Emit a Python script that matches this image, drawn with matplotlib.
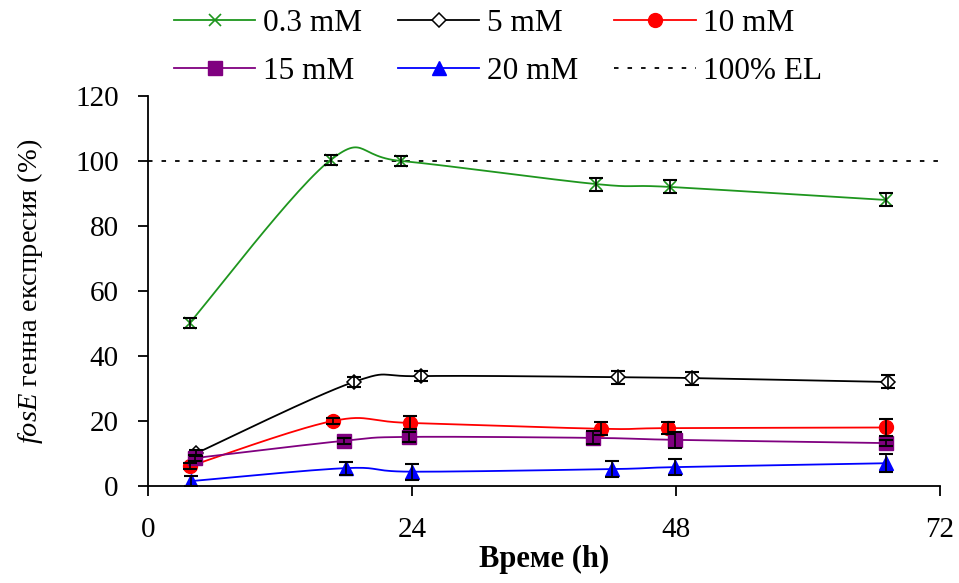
""" fosE генна експресия vs време (различни концентрации)

"""
import numpy as np
import matplotlib
matplotlib.use('Agg')
import matplotlib.pyplot as plt
from matplotlib.lines import Line2D

plt.rcParams['font.family'] = ['Liberation Serif', 'DejaVu Serif']
plt.rcParams['mathtext.fontset'] = 'custom'
plt.rcParams['mathtext.rm'] = 'Liberation Serif'
plt.rcParams['mathtext.it'] = 'Liberation Serif:italic'

# данни (отчетени от графиката)
labels = ['0.3 mM', '5 mM', '10 mM', '15 mM', '20 mM']
x_03 = [3.8, 16.6, 23.0, 40.7, 47.5, 67.1]
y_03 = [50.2, 100.3, 100.0, 92.9, 92.0, 88.0]
e_03 = [1.5, 1.5, 1.5, 2.0, 2.0, 2.0]
x_5 = [4.4, 18.7, 24.8, 42.7, 49.5, 67.3]
y_5 = [10.1, 32.0, 33.8, 33.5, 33.2, 32.0]
e_5 = [1.0, 1.5, 1.5, 2.0, 2.0, 2.0]
x_10 = [3.8, 16.8, 23.8, 41.2, 47.3, 67.1]
y_10 = [6.1, 20.0, 19.4, 17.6, 17.8, 18.0]
e_10 = [1.0, 1.0, 2.0, 2.0, 1.8, 2.5]
x_15 = [4.3, 17.8, 23.7, 40.5, 47.9, 67.1]
y_15 = [8.6, 13.9, 15.1, 14.8, 14.2, 13.2]
e_15 = [1.0, 1.0, 1.5, 2.0, 2.4, 1.0]
x_20 = [3.9, 18.0, 24.0, 42.2, 47.9, 67.1]
y_20 = [1.5, 5.5, 4.4, 5.2, 5.8, 7.0]
e_20 = [1.5, 2.0, 2.5, 2.5, 2.5, 2.8]
el_level = 100


def smooth(x, y, n=30):
    """ Excel-подобна гладка линия (Безие с тангенти 1/6) """
    x = np.asarray(x, float)
    y = np.asarray(y, float)
    px = np.concatenate([[x[0]], x, [x[-1]]])
    py = np.concatenate([[y[0]], y, [y[-1]]])
    xs, ys = [], []
    t = np.linspace(0, 1, n)
    for i in range(1, len(px) - 2):
        p0 = np.array([px[i], py[i]])
        p3 = np.array([px[i + 1], py[i + 1]])
        p1 = p0 + (np.array([px[i + 1], py[i + 1]]) - np.array([px[i - 1], py[i - 1]])) / 6
        p2 = p3 - (np.array([px[i + 2], py[i + 2]]) - np.array([px[i], py[i]])) / 6
        b = ((1 - t) ** 3)[:, None] * p0 + (3 * (1 - t) ** 2 * t)[:, None] * p1 \
            + (3 * (1 - t) * t ** 2)[:, None] * p2 + (t ** 3)[:, None] * p3
        xs.extend(b[:, 0])
        ys.extend(b[:, 1])
    return xs, ys


fig = plt.figure(figsize=(9.59, 5.83), dpi=100)
ax = fig.add_axes([0.1543, 0.1664, 0.8259, 0.6690])

series = [
    (x_03, y_03, e_03, '#1e961e', dict(marker='x', ms=9, mew=1.2, mfc='none')),
    (x_5, y_5, e_5, 'black', dict(marker='D', ms=7, mew=1.1, mfc='white')),
    (x_10, y_10, e_10, '#ff0000', dict(marker='o', ms=10, mfc='#ff0000')),
    (x_15, y_15, e_15, '#800080', dict(marker='s', ms=10, mfc='#800080')),
    (x_20, y_20, e_20, '#0000ff', dict(marker='^', ms=10, mfc='#0000ff')),
]

handles = []
for (xx, yy, ee, col, mk), lab in zip(series, labels):
    sx, sy = smooth(xx, yy)
    ax.plot(sx, sy, '-', lw=1.3, color=col, zorder=2)
    ax.plot(xx, yy, ls='none', color=col, mec=col, zorder=3, **mk)
    ax.errorbar(xx, yy, yerr=ee, fmt='none', ecolor='black', elinewidth=1.2,
                capsize=5, capthick=1.5, zorder=4)
    handles.append(Line2D([], [], color=col, lw=1.3, mec=col, **mk))

ax.plot([0, 72], [el_level, el_level], color='black', lw=1.3, ls=(0, (2.5, 5)), zorder=1)
h_el = Line2D([], [], color='black', lw=1.3, ls=(0, (2.5, 5)))

ax.set_xlim(0, 72)
ax.set_ylim(0, 120)
ax.set_xticks([0, 24, 48, 72])
ax.set_yticks(range(0, 121, 20))
for s in ['top', 'right']:
    ax.spines[s].set_visible(False)
for s in ['left', 'bottom']:
    ax.spines[s].set_linewidth(1.3)
ax.tick_params(direction='out', length=7, width=1.3, labelsize=21)
ax.tick_params(axis='x', pad=15)
ax.tick_params(axis='y', pad=14)

ax.set_xlabel('Време (h)', fontsize=22, fontweight='bold', labelpad=2)
ax.set_ylabel(r'$\it{fosE}$ генна експресия (%)', fontsize=20.5, labelpad=22)

# ред: колони първо
order = [handles[0], handles[3], handles[1], handles[4], handles[2], h_el]
olab = [labels[0], labels[3], labels[1], labels[4], labels[2], '100% EL']
fig.legend(order, olab, ncol=3, loc='upper left', bbox_to_anchor=(174 / 959, 0.985),
           frameon=False, fontsize=22.5, handlelength=2.6, handletextpad=0.25,
           columnspacing=1.15, labelspacing=0.62, borderpad=0, borderaxespad=0)

fig.savefig('out.png', dpi=100)
